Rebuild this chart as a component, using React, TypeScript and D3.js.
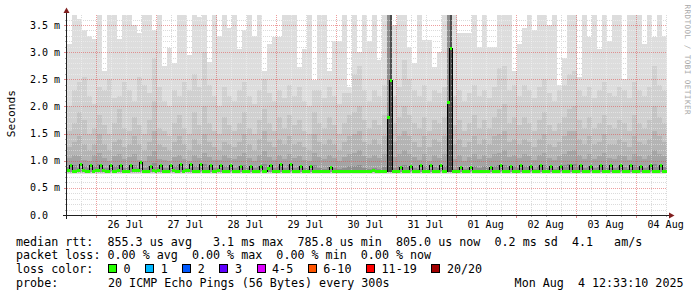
import React from "react";
import * as d3 from "d3";

// ---------- time frame ----------
const START = Date.UTC(2025, 6, 25, 12, 33, 10);
const END = Date.UTC(2025, 7, 4, 12, 33, 10);
const HOUR = 3600 * 1000;
const SMOKE_STEP = 2 * HOUR; // smoke bins
const MEDIAN_STEP = HOUR; // median bins

// ---------- smoke (ms), outer -> inner, 2h bins ----------
const smokeL1 = [
  3.15, 3.7, 3.62, 3.4, 3.3, 3.25, 3.7, 2.65, 3.7, 3.7, 3.25, 3.7, 3.7, 3.5, 3.35, 3.7, 3.7, 3.4, 3.7, 2.75,
  3.08, 2.8, 3.7, 3.7, 2.95, 3.7, 3.65, 3.7, 2.82, 3.7, 3.3, 3.7, 3.45, 3.7, 3.05, 3.4, 3.7, 3.3, 3.7, 2.65,
  3.15, 3.28, 3.28, 3.7, 3.7, 3.7, 2.72, 3.05, 3.7, 2.48, 3.7, 3.7, 2.65, 3.2, 3.2, 3.7, 2.35, 3.7, 3.0, 3.7,
  3.2, 3.7, 2.85, 3.7, 3.7, 3.5, 3.7, 3.7, 3.1, 2.8, 3.7, 3.22, 3.22, 2.73, 3.0, 3.7, 3.7, 3.7, 3.35, 3.35,
  3.35, 3.7, 3.1, 3.7, 3.1, 3.1, 3.7, 3.7, 3.7, 2.65, 3.15, 3.45, 3.7, 3.4, 3.7, 3.7, 3.5, 3.7, 2.4, 2.9,
  3.7, 3.7, 2.55, 3.7, 3.28, 3.7, 3.05, 3.7, 3.2, 3.7, 3.7, 2.5, 3.7, 3.7, 3.7, 3.15, 3.7, 3.28, 3.7, 3.3,
];
const smokeL2 = [
  2.0, 2.3, 2.45, 2.55, 2.2, 2.05, 2.35, 2.3, 2.5, 2.15, 2.2, 2.45, 2.3, 2.1, 2.55, 2.4, 2.25, 2.9, 2.35, 2.1,
  2.0, 2.3, 2.2, 2.45, 2.3, 2.6, 2.35, 3.0, 2.4, 2.2, 2.0, 2.35, 2.2, 2.1, 2.3, 2.45, 2.2, 2.05, 2.3, 2.5,
  2.25, 2.1, 2.3, 2.15, 2.4, 2.2, 2.35, 2.1, 2.0, 2.3, 2.3, 2.15, 2.35, 2.2, 2.05, 2.25, 2.25, 2.6, 2.75, 2.3,
  2.1, 2.3, 2.2, 2.4, 3.7, 2.2, 2.35, 2.85, 2.5, 2.3, 2.2, 2.4, 2.1, 2.3, 2.25, 2.35, 3.7, 2.2, 2.3, 2.1,
  2.25, 2.4, 2.2, 2.3, 2.15, 2.35, 2.7, 2.75, 2.3, 2.4, 2.2, 2.4, 2.3, 2.15, 2.35, 2.5, 2.25, 2.1, 2.3, 2.4,
  2.6, 2.65, 2.3, 2.2, 2.35, 2.15, 2.3, 2.45, 2.25, 2.2, 2.35, 2.3, 2.15, 2.45, 2.3, 2.2, 2.35, 2.75, 2.4, 2.3,
];
const smokeL3 = [
  1.55, 1.7, 1.9, 1.75, 1.5, 1.6, 1.85, 1.65, 1.5, 1.7, 1.95, 1.6, 1.55, 1.8, 1.65, 1.5, 1.75, 2.1, 1.6, 1.55,
  1.45, 1.7, 1.85, 1.6, 1.5, 1.9, 1.65, 2.0, 1.7, 1.55, 1.5, 1.8, 1.65, 1.55, 1.7, 1.9, 1.6, 1.5, 1.75, 1.95,
  1.7, 1.55, 1.8, 1.6, 1.85, 1.65, 1.75, 1.55, 1.5, 1.9, 1.7, 1.6, 1.8, 1.65, 1.5, 1.7, 1.85, 1.9, 2.0, 1.75,
  1.6, 1.75, 1.65, 1.85, 3.7, 1.7, 1.8, 2.0, 1.85, 1.7, 1.6, 1.8, 1.55, 1.75, 1.7, 1.8, 3.7, 1.65, 1.75, 1.55,
  1.7, 1.85, 1.6, 1.75, 1.6, 1.8, 1.95, 2.05, 1.7, 1.8, 1.65, 1.8, 1.7, 1.55, 1.75, 1.9, 1.65, 1.55, 1.7, 1.8,
  1.95, 2.0, 1.75, 1.6, 1.8, 1.6, 1.7, 1.85, 1.65, 1.6, 1.75, 1.7, 1.55, 1.85, 1.7, 1.6, 1.75, 2.0, 1.8, 1.7,
];
const smokeL4 = [
  1.25, 1.35, 1.45, 1.3, 1.2, 1.3, 1.5, 1.3, 1.2, 1.35, 1.4, 1.25, 1.3, 1.45, 1.3, 1.2, 1.35, 1.55, 1.3, 1.25,
  1.2, 1.35, 1.45, 1.3, 1.2, 1.4, 1.3, 1.5, 1.35, 1.25, 1.2, 1.35, 1.3, 1.25, 1.35, 1.5, 1.3, 1.2, 1.4, 1.55,
  1.35, 1.25, 1.4, 1.3, 1.45, 1.3, 1.35, 1.25, 1.2, 1.5, 1.35, 1.3, 1.4, 1.3, 1.2, 1.35, 1.45, 1.5, 1.55, 1.35,
  1.3, 1.4, 1.3, 1.45, 3.7, 1.35, 1.45, 1.55, 1.45, 1.35, 1.25, 1.45, 1.25, 1.4, 1.35, 1.45, 3.7, 1.3, 1.4, 1.25,
  1.35, 1.45, 1.3, 1.4, 1.3, 1.45, 1.5, 1.55, 1.35, 1.4, 1.3, 1.4, 1.35, 1.25, 1.4, 1.5, 1.3, 1.25, 1.35, 1.45,
  1.55, 1.55, 1.4, 1.3, 1.45, 1.3, 1.35, 1.5, 1.3, 1.3, 1.4, 1.35, 1.25, 1.45, 1.35, 1.3, 1.4, 1.55, 1.45, 1.35,
];
const smokeL5 = [
  1.05, 1.1, 1.08, 1.02, 1.0, 1.1, 1.15, 1.05, 1.0, 1.08, 1.12, 1.03, 1.06, 1.12, 1.02, 1.0, 1.08, 1.18, 1.04, 1.02,
  1.0, 1.06, 1.1, 1.03, 1.0, 1.1, 1.05, 1.15, 1.06, 1.02, 1.02, 1.1, 1.05, 1.03, 1.08, 1.15, 1.05, 1.0, 1.1, 1.18,
  1.06, 1.02, 1.1, 1.04, 1.12, 1.05, 1.08, 1.02, 1.0, 1.15, 1.06, 1.04, 1.1, 1.05, 1.0, 1.06, 1.12, 1.15, 1.2, 1.08,
  1.05, 1.1, 1.05, 1.12, 3.7, 1.06, 1.12, 1.2, 1.12, 1.06, 1.02, 1.12, 1.0, 1.1, 1.05, 1.12, 3.7, 1.04, 1.1, 1.0,
  1.06, 1.12, 1.04, 1.1, 1.05, 1.12, 1.15, 1.2, 1.06, 1.1, 1.05, 1.12, 1.08, 1.02, 1.1, 1.15, 1.05, 1.02, 1.08, 1.12,
  1.18, 1.2, 1.1, 1.04, 1.12, 1.04, 1.08, 1.15, 1.05, 1.04, 1.1, 1.08, 1.02, 1.12, 1.08, 1.04, 1.1, 1.2, 1.12, 1.08,
];
const smokeL6 = [
  0.88, 0.92, 0.87, 0.9, 0.86, 0.9, 0.94, 0.87, 0.86, 0.9, 0.92, 0.87, 0.88, 0.93, 0.87, 0.86, 0.9, 0.95, 0.88, 0.87,
  0.86, 0.9, 0.92, 0.87, 0.86, 0.91, 0.88, 0.94, 0.9, 0.87, 0.87, 0.9, 0.88, 0.86, 0.9, 0.93, 0.87, 0.86, 0.91, 0.94,
  0.88, 0.86, 0.9, 0.87, 0.92, 0.86, 0.89, 0.86, 0.85, 0.92, 0.87, 0.85, 0.89, 0.86, 0.84, 0.86, 0.9, 0.91, 0.93, 0.87,
  0.85, 0.87, 0.85, 0.89, 3.7, 0.87, 0.9, 0.92, 0.89, 0.87, 0.85, 0.9, 0.85, 0.89, 0.87, 0.9, 3.7, 0.85, 0.89, 0.85,
  0.87, 0.91, 0.87, 0.9, 0.87, 0.91, 0.92, 0.93, 0.89, 0.9, 0.87, 0.91, 0.89, 0.85, 0.9, 0.93, 0.87, 0.85, 0.89, 0.92,
  0.94, 0.94, 0.9, 0.87, 0.91, 0.87, 0.89, 0.93, 0.87, 0.87, 0.9, 0.89, 0.85, 0.92, 0.89, 0.87, 0.9, 0.94, 0.91, 0.89,
];
const smokeBottoms = [0.755, 0.765, 0.775, 0.78, 0.785, 0.79];

// densest smoke at the two outage spikes (hour index from start, top in ms)
const coreHours = [128, 129, 152, 153];
const coreTops = [1.8, 3.7, 2.1, 3.7];

// ---------- median rtt (ms), 1h bins ----------
const medianRtt = [
  0.82, 0.92, 0.81, 0.81, 0.82, 0.93, 0.82, 0.81, 0.81, 0.92, 0.81, 0.82, 0.82, 0.92, 0.82, 0.81,
  0.81, 0.91, 0.80, 0.81, 0.82, 0.92, 0.81, 0.81, 0.81, 0.92, 0.82, 0.82, 0.82, 0.96, 0.81, 0.81,
  0.81, 0.89, 0.82, 0.81, 0.82, 0.92, 0.81, 0.80, 0.81, 0.92, 0.82, 0.81, 0.81, 0.93, 0.81, 0.82,
  0.82, 0.93, 0.81, 0.81, 0.81, 0.93, 0.80, 0.81, 0.81, 0.92, 0.81, 0.81, 0.82, 0.92, 0.81, 0.80,
  0.81, 0.91, 0.80, 0.81, 0.81, 0.90, 0.81, 0.80, 0.81, 0.90, 0.80, 0.80, 0.80, 0.89, 0.81, 0.81,
  0.86, 0.92, 0.80, 0.80, 0.80, 0.93, 0.80, 0.81, 0.80, 0.93, 0.80, 0.80, 0.80, 0.90, 0.81, 0.80,
  0.80, 0.90, 0.80, 0.80, 0.80, 0.81, 0.80, 0.80, 0.80, 0.87, 0.80, 0.80, 0.80, 0.80, 0.81, 0.80,
  0.80, 0.80, 0.80, 0.81, 0.81, 0.80, 0.80, 0.80, 0.80, 0.81, 0.82, 0.81, 0.80, 0.80, 0.81, 0.81,
  1.79, 2.47, 0.81, 0.80, 0.81, 0.88, 0.81, 0.80, 0.81, 0.90, 0.80, 0.81, 0.80, 0.92, 0.81, 0.80,
  0.81, 0.91, 0.80, 0.81, 0.80, 0.92, 0.80, 0.80, 2.07, 3.06, 0.80, 0.80, 0.81, 0.87, 0.80, 0.80,
  0.80, 0.88, 0.81, 0.80, 0.80, 0.81, 0.80, 0.81, 0.80, 0.88, 0.81, 0.80, 0.81, 0.92, 0.81, 0.81,
  0.80, 0.90, 0.81, 0.80, 0.81, 0.92, 0.80, 0.81, 0.81, 0.90, 0.81, 0.80, 0.81, 0.91, 0.80, 0.81,
  0.80, 0.90, 0.81, 0.81, 0.81, 0.89, 0.81, 0.80, 0.80, 0.91, 0.80, 0.81, 0.81, 0.91, 0.81, 0.80,
  0.80, 0.90, 0.81, 0.81, 0.81, 0.92, 0.80, 0.81, 0.81, 0.92, 0.80, 0.80, 0.80, 0.91, 0.81, 0.81,
  0.81, 0.92, 0.81, 0.80, 0.80, 0.90, 0.81, 0.81, 0.81, 0.91, 0.80, 0.81, 0.80, 0.91, 0.81, 0.81,
];

// ---------- axes / legend text ----------
const yTickValues = [0, 0.5, 1, 1.5, 2, 2.5, 3, 3.5];
const yTickLabels = ["0.0", "0.5 m", "1.0 m", "1.5 m", "2.0 m", "2.5 m", "3.0 m", "3.5 m"];
const dayLabels = ["26 Jul", "27 Jul", "28 Jul", "29 Jul", "30 Jul", "31 Jul", "01 Aug", "02 Aug", "03 Aug", "04 Aug"];
const yAxisTitle = "Seconds";
const watermark = "RRDTOOL / TOBI OETIKER";
const legendRtt = "median rtt:  855.3 us avg   3.1 ms max  785.8 us min  805.0 us now  0.2 ms sd  4.1   am/s";
const legendLoss = "packet loss: 0.00 % avg  0.00 % max  0.00 % min  0.00 % now";
const legendLossTitle = "loss color:";
const lossLabels = ["0", "1", "2", "3", "4-5", "6-10", "11-19", "20/20"];
const lossColors = ["#26ff00", "#00b8ff", "#0059ff", "#5e00ff", "#dd00ff", "#ff5500", "#ff0000", "#a10000"];
const probeTitle = "probe:";
const probeText = "20 ICMP Echo Pings (56 Bytes) every 300s";
const stampText = "Mon Aug  4 12:33:10 2025";

// ---------- styling ----------
const smokeColors = ["#dddddd", "#d0d0d0", "#c3c3c3", "#b4b4b4", "#a4a4a4", "#8e8e8e"];
const FONT = "'DejaVu Sans Mono', monospace";
const PRE = { whiteSpace: "pre" as const };

export default function App() {
  const W = 697, H = 297;
  const L = 67, R = 667, T = 15, B = 215;
  const x = d3.scaleUtc().domain([new Date(START), new Date(END)]).range([L, R]);
  const y = d3.scaleLinear().domain([0, 3.685]).range([B, T]);

  const levels = [smokeL1, smokeL2, smokeL3, smokeL4, smokeL5, smokeL6];
  type P = { t: number; v: number };
  const toPts = (vals: number[], step: number): P[] => {
    const pts = vals.map((v, i) => ({ t: START + i * step, v }));
    pts.push({ t: START + vals.length * step, v: vals[vals.length - 1] });
    return pts;
  };

  const medPts = toPts(medianRtt, MEDIAN_STEP);
  const medLine = d3
    .line<P>()
    .x((d) => x(new Date(d.t)))
    .y((d) => y(d.v))
    .curve(d3.curveStepAfter);

  const sixHours = d3.utcHour.every(6)!.range(new Date(START), new Date(END));
  const minorV = sixHours.filter((d) => d.getUTCHours() !== 0);
  const majorV = sixHours.filter((d) => d.getUTCHours() === 0);
  const days = d3.utcDay.range(new Date(START), new Date(END));

  const minorH = d3.range(1, 37).filter((i) => i % 5 !== 0).map((i) => i / 10);
  const px = (v: number) => Math.round(v) + 0.5;

  // legend boxes layout
  const charW = 11.7 * 0.6021;
  let bx = 108;
  const boxes = lossLabels.map((lab, i) => {
    const item = { x: bx, lab, color: lossColors[i] };
    bx = bx + 15.5 + lab.length * charW + 14.6;
    return item;
  });

  return (
    <svg
      width={W}
      height={H}
      style={{ position: "absolute", left: 0, top: 0, background: "#ffffff" }}
      fontFamily={FONT}
    >
      <defs>
        <clipPath id="plot">
          <rect x={L} y={T} width={R - L} height={B - T} />
        </clipPath>
      </defs>
      <rect x={0} y={0} width={W} height={H} fill="#ffffff" />

      {/* minor grid (underlay) */}
      <g stroke="#c4c4c4" strokeWidth={1} strokeDasharray="1,1" shapeRendering="crispEdges">
        {minorH.map((v) => (
          <line key={"mh" + v} x1={L} x2={R} y1={px(y(v))} y2={px(y(v))} />
        ))}
        {minorV.map((d) => (
          <line key={"mv" + +d} x1={px(x(d))} x2={px(x(d))} y1={T} y2={B} />
        ))}
      </g>

      {/* smoke */}
      <g clipPath="url(#plot)" shapeRendering="crispEdges">
        {levels.map((vals, li) => {
          const area = d3
            .area<P>()
            .x((d) => x(new Date(d.t)))
            .y0(y(smokeBottoms[li]))
            .y1((d) => y(d.v))
            .curve(d3.curveStepAfter);
          return <path key={"s" + li} d={area(toPts(vals, SMOKE_STEP)) || ""} fill={smokeColors[li]} />;
        })}
        {coreHours.map((h, i) => {
          const x0 = x(new Date(START + h * HOUR));
          const x1 = x(new Date(START + (h + 1) * HOUR));
          const yt = y(coreTops[i]);
          return <rect key={"c" + i} x={x0} y={yt} width={x1 - x0} height={y(0.8) - yt} fill="#4d4d4d" />;
        })}
      </g>

      {/* grid overlay */}
      <g stroke="rgba(255,255,255,0.4)" strokeWidth={1} strokeDasharray="1,1" shapeRendering="crispEdges">
        {minorH.map((v) => (
          <line key={"oh" + v} x1={L} x2={R} y1={px(y(v))} y2={px(y(v))} />
        ))}
        {minorV.map((d) => (
          <line key={"ov" + +d} x1={px(x(d))} x2={px(x(d))} y1={T} y2={B} />
        ))}
      </g>
      <g stroke="rgba(222,79,79,0.55)" strokeWidth={1} strokeDasharray="1,1" shapeRendering="crispEdges">
        {yTickValues.slice(1).map((v) => (
          <line key={"Mh" + v} x1={L} x2={R} y1={px(y(v))} y2={px(y(v))} />
        ))}
        {majorV.map((d) => (
          <line key={"Mv" + +d} x1={px(x(d))} x2={px(x(d))} y1={T} y2={B} />
        ))}
      </g>

      {/* median */}
      <g clipPath="url(#plot)" shapeRendering="crispEdges">
        <path d={medLine(medPts) || ""} fill="none" stroke="#000000" strokeWidth={1} />
        {medianRtt.map((v, j) => (
          <line
            key={"g" + j}
            x1={x(new Date(START + j * MEDIAN_STEP))}
            x2={x(new Date(START + (j + 1) * MEDIAN_STEP))}
            y1={y(v)}
            y2={y(v)}
            stroke="#26ff00"
            strokeWidth={3}
          />
        ))}
      </g>

      {/* ticks outside plot */}
      <g shapeRendering="crispEdges" strokeWidth={1}>
        {minorH.map((v) => (
          <line key={"th" + v} x1={L - 2} x2={L} y1={px(y(v))} y2={px(y(v))} stroke="#b0b0b0" />
        ))}
        {yTickValues.map((v) => (
          <line key={"tH" + v} x1={L - 3} x2={L} y1={px(y(v))} y2={px(y(v))} stroke="#e08a8a" />
        ))}
        {minorV.map((d) => (
          <line key={"tv" + +d} x1={px(x(d))} x2={px(x(d))} y1={B} y2={B + 2} stroke="#b0b0b0" />
        ))}
        {majorV.map((d) => (
          <line key={"tV" + +d} x1={px(x(d))} x2={px(x(d))} y1={B} y2={B + 3} stroke="#e08a8a" />
        ))}
      </g>

      {/* axes */}
      <g shapeRendering="crispEdges" stroke="#1f1f1f" strokeWidth={1}>
        <line x1={63} x2={670} y1={B + 0.5} y2={B + 0.5} />
        <line x1={L - 0.5} x2={L - 0.5} y1={219} y2={12} />
      </g>
      <path d={`M${L - 0.5},7.5 L${L - 3.5},13 L${L + 2.5},13 Z`} fill="#801f1f" />
      <path d={`M674.5,${B + 0.5} L669,${B - 2.5} L669,${B + 3.5} Z`} fill="#801f1f" />

      {/* y tick labels */}
      <g fontSize={10} fill="#000000">
        {yTickValues.map((v, i) => (
          <text key={"yl" + v} x={30} y={y(v) + 3.6} xmlSpace="preserve" style={PRE}>
            {yTickLabels[i]}
          </text>
        ))}
      </g>
      {/* x labels */}
      <g fontSize={10} fill="#000000" textAnchor="middle">
        {days.map((d, i) => (
          <text key={"xl" + i} x={x(d3.utcHour.offset(d, 12))} y={228.3}>
            {dayLabels[i]}
          </text>
        ))}
      </g>

      <text
        transform="translate(15,113.6) rotate(-90)"
        fontSize={11.2}
        textAnchor="middle"
        fill="#000000"
      >
        {yAxisTitle}
      </text>
      <text
        transform="translate(685,4.5) rotate(90)"
        fontSize={7.6}
        fill="#a8a8a8"
        textLength={110}
        lengthAdjust="spacing"
      >
        {watermark}
      </text>

      {/* legend */}
      <g fontSize={11.7} fill="#000000">
        <text x={16} y={245.7} xmlSpace="preserve" style={PRE}>{legendRtt}</text>
        <text x={16} y={259.4} xmlSpace="preserve" style={PRE}>{legendLoss}</text>
        <text x={16} y={273.2} xmlSpace="preserve" style={PRE}>{legendLossTitle}</text>
        {boxes.map((b) => (
          <g key={"lb" + b.lab}>
            <rect
              x={Math.round(b.x) + 0.5}
              y={264.5}
              width={8}
              height={8}
              fill={b.color}
              stroke="#000000"
              strokeWidth={1}
              shapeRendering="crispEdges"
            />
            <text x={b.x + 15.5} y={273.2}>{b.lab}</text>
          </g>
        ))}
        <text x={16} y={287}>{probeTitle}</text>
        <text x={108} y={287} xmlSpace="preserve" style={PRE}>{probeText}</text>
        <text x={683.5} y={287} textAnchor="end" xmlSpace="preserve" style={PRE}>{stampText}</text>
      </g>
    </svg>
  );
}
